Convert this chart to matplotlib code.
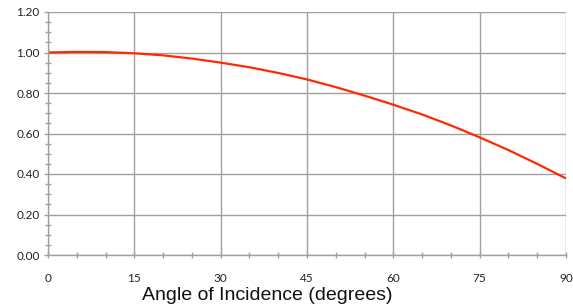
import matplotlib
matplotlib.use("Agg")
import matplotlib.pyplot as plt
from matplotlib.ticker import MultipleLocator, FormatStrFormatter

angles = [0, 5, 10, 15, 20, 25, 30, 35, 40, 45, 50, 55, 60, 65, 70, 75, 80, 85, 90]
values = [1.000, 1.003, 1.002, 0.996, 0.986, 0.970, 0.950, 0.927, 0.899, 0.867,
          0.829, 0.787, 0.742, 0.694, 0.640, 0.581, 0.518, 0.450, 0.378]
x_ticks = [0, 15, 30, 45, 60, 75, 90]
y_ticks = [0.0, 0.2, 0.4, 0.6, 0.8, 1.0, 1.2]
xlabel = "Angle of Incidence (degrees)"

W, H = 573, 307
fig = plt.figure(figsize=(W / 100, H / 100), dpi=100)
ax = fig.add_axes([48 / W, 1 - 255 / H, (566 - 48) / W, (255 - 12) / H])

grid_c = "#a0a0a0"
ax.plot(angles, values, color="#ff2a00", lw=1.6, solid_capstyle="butt")
ax.set_xlim(0, 90)
ax.set_ylim(0, 1.2)
ax.set_xticks(x_ticks)
ax.set_yticks(y_ticks)
ax.yaxis.set_major_formatter(FormatStrFormatter("%.2f"))
ax.xaxis.set_minor_locator(MultipleLocator(5))
ax.yaxis.set_minor_locator(MultipleLocator(0.05))
ax.grid(True, which="major", color=grid_c, lw=1.0)
ax.set_axisbelow(True)
for s in ["top", "right"]:
    ax.spines[s].set_visible(False)
for s in ["left", "bottom"]:
    ax.spines[s].set_color(grid_c)
    ax.spines[s].set_linewidth(1.0)

ax.tick_params(axis="y", which="major", length=3, width=1, color=grid_c, direction="out", pad=3)
ax.tick_params(axis="y", which="minor", length=4, width=1, color=grid_c, direction="inout")
ax.tick_params(axis="x", which="major", length=4, width=1, color=grid_c, direction="inout", pad=11)
ax.tick_params(axis="x", which="minor", length=4, width=1, color=grid_c, direction="inout")
for lab in ax.get_xticklabels() + ax.get_yticklabels():
    lab.set_fontfamily("Lato")
    lab.set_fontsize(8.5)
    lab.set_color("#222222")

fig.text(267 / W, 1 - 296 / H, xlabel, ha="center", va="center",
         family="Liberation Sans", fontsize=14, color="#111111")

fig.savefig("out.png", dpi=100)
